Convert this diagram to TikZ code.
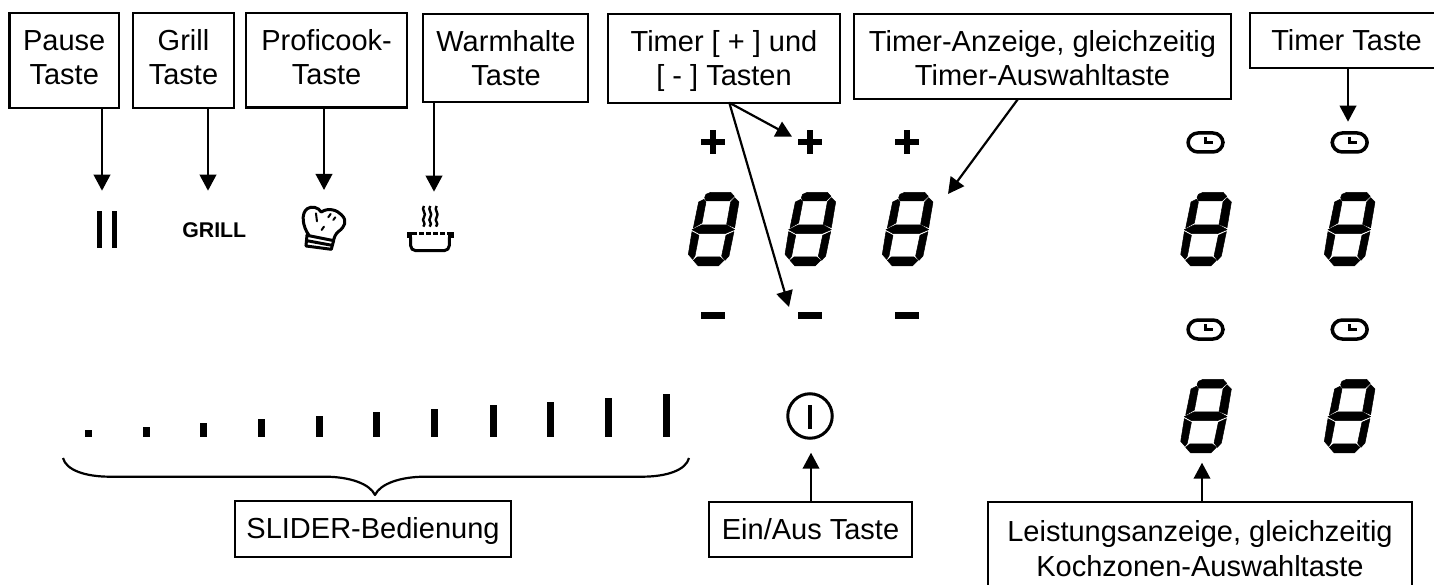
\documentclass[tikz,border=0pt]{standalone}
\usepackage{fontspec}
\setmainfont{Liberation Sans}
\usetikzlibrary{arrows.meta}
\tikzset{
  boxshape/.style={draw=black,line width=2.2pt,inner sep=0pt,outer sep=0pt,fill=white},
  lab/.style={anchor=base,inner sep=0pt,outer sep=0pt,font=\fontsize{29}{34.3}\selectfont},
  arr/.style={line width=2.2pt,-{Triangle[width=16.5pt,length=16pt]},shorten >=0pt},
  brc/.style={line width=2.2pt,line join=round},
  glyph/.style={fill=black,draw=none},
  seg/.style={fill=black,draw=black,line width=0.5pt,line join=round},
}
\newcommand{\twoln}[2]{\begin{tabular}[t]{@{}c@{}}#1\\{}#2\end{tabular}}
\newcommand{\mkbox}[5]{% name, x0, y0, x1, y1
  \path[boxshape,draw] (#2,#3) rectangle (#4,#5);
  \node[inner sep=0pt,outer sep=0pt,minimum width={(#4-#2)*1pt},minimum height={(#5-#3)*1pt}] (#1) at ({(#2+#4)/2},{(#3+#5)/2}) {};
}
\newcommand{\sevenseg}[2]{%
  \begin{scope}[shift={(#1,#2)},x=0.3333pt,y=-0.3333pt]
    \filldraw[seg] (53,7)--(67,1)--(127,1)--(138,13)--(123,27)--(53,27)--(49,17)--cycle;
    \filldraw[seg] (31,30)--(47,22)--(53,30)--(41,93)--(15,108)--cycle;
    \filldraw[seg] (139,17)--(152,30)--(139,107)--(115,97)--(127,30)--cycle;
    \filldraw[seg] (11,113)--(40,99)--(115,99)--(139,113)--(110,125)--(33,125)--cycle;
    \filldraw[seg] (11,119)--(32,130)--(20,192)--(13,202)--(0,187)--cycle;
    \filldraw[seg] (137,119)--(122,192)--(110,205)--(100,192)--(113,130)--cycle;
    \filldraw[seg] (15,205)--(27,195)--(95,195)--(107,205)--(90,222)--(30,222)--cycle;
  \end{scope}}
\newcommand{\plusg}[2]{\fill[glyph] (#1-12,#2-3) rectangle (#1+12,#2+3);\fill[glyph] (#1-3,#2-12) rectangle (#1+3,#2+12);}
\newcommand{\minusg}[2]{\fill[glyph] (#1-12,#2-3.5) rectangle (#1+12,#2+3.5);}
\newcommand{\clockg}[2]{%
  \draw[line width=3.5pt,rounded corners=10pt] (#1-17.5,#2-9.5) rectangle (#1+17.5,#2+9.5);
  \draw[line width=3pt] (#1,#2-5.5) -- (#1,#2) -- (#1+7.5,#2);}
\begin{document}
\begin{tikzpicture}[x=1pt,y=-1pt]
\useasboundingbox (0,0) rectangle (1434,585);
\fill[white] (0,0) rectangle (1434,585);
\clip (0,0) rectangle (1434,585);

% boxes
\mkbox{pause}{9.5}{13}{119}{108}
\mkbox{grill}{133}{13}{234}{108}
\mkbox{profi}{246}{13}{407}{107.5}
\mkbox{warm}{423}{14}{588}{102}
\mkbox{timer}{608}{14}{840}{102.7}
\mkbox{anzeige}{854}{14}{1231}{99}
\mkbox{ttaste}{1250}{13}{1443}{68}
\mkbox{slider}{235}{501}{511}{557}
\mkbox{einaus}{709}{501.7}{912}{557}
\mkbox{leistung}{988}{501.7}{1412}{595}

% box texts
\node[lab] (tpause) at (64.2,50.7) {\twoln{Pause}{Taste}};
\node[lab] (tgrill) at (183.5,50.7) {\twoln{Grill}{Taste}};
\node[lab] (tprofi) at (326.6,50.7) {\twoln{Proficook-}{Taste}};
\node[lab] (twarm) at (506,51.7) {\twoln{Warmhalte}{Taste}};
\node[lab] (ttimer) at (724,51.7) {\twoln{Timer [ + ] und}{[ - ] Tasten}};
\node[lab] (tanz) at (1042.5,51.7) {\twoln{Timer-Anzeige, gleichzeitig}{Timer-Auswahltaste}};
\node[lab] (ttt) at (1346.5,50.7) {Timer Taste};
\node[lab] (tslider) at (373,538.3) {SLIDER-Bedienung};
\node[lab] (tein) at (810.5,539.3) {Ein/Aus Taste};
\node[lab] (tlei) at (1200,541.7) {\twoln{Leistungsanzeige, gleichzeitig}{Kochzonen-Auswahltaste}};

% pause symbol
\fill[glyph] (96.5,210.7) rectangle (101.5,247.7);
\fill[glyph] (111.8,210.7) rectangle (116.8,247.7);
% grill label
\node[anchor=base,inner sep=0pt,font=\fontsize{21.3}{24}\selectfont\bfseries] (grilltxt) at (214.3,237.3) {GRILL};

% chef hat
\begin{scope}[x=0.3333pt,y=-0.3333pt,line width=3pt,line join=round,line cap=round]
  \draw (927,706) .. controls (908,680) and (902,640) .. (922,626) .. controls (935,617) and (955,622) .. (964,636)
        .. controls (985,622) and (1012,630) .. (1025,645) .. controls (1042,662) and (1036,680) .. (1015,695)
        .. controls (1006,703) and (1003,712) .. (1000,722);
  \draw (921,706) -- (1001,722) -- (994,748) -- (918,738) -- cycle;
  \draw (920,722) -- (996,736);
  \draw[line width=2pt] (948,640) -- (951,664);
  \draw[line width=2pt] (985,652) -- (992,642);
  \draw[line width=2pt] (965,690) -- (972,680);
  \draw[line width=2pt] (1000,660) -- (1006,652);
\end{scope}

% pot
\begin{scope}[x=0.3333pt,y=-0.3333pt,line join=round]
  \fill[glyph] (1220,695) rectangle (1237,715);
  \fill[glyph] (1345,695) rectangle (1361,715);
  \draw[line width=3pt,rounded corners=5pt] (1232,712) -- (1232,752) -- (1348,752) -- (1348,712);
  \draw[line width=3pt,dash pattern=on 5pt off 2pt] (1237,700) -- (1345,700);
  \draw[line width=2.4pt] (1272,618) .. controls (1262,630) and (1282,640) .. (1272,652) .. controls (1262,664) and (1282,668) .. (1270,680);
  \draw[line width=2.4pt] (1291,618) .. controls (1281,630) and (1301,640) .. (1291,652) .. controls (1281,664) and (1301,668) .. (1289,680);
  \draw[line width=2.4pt] (1310,618) .. controls (1300,630) and (1320,640) .. (1310,652) .. controls (1300,664) and (1320,668) .. (1308,680);
\end{scope}

% plus, minus, displays
\plusg{713}{142.3}\plusg{810}{142.3}\plusg{907}{142.3}
\minusg{713}{315}\minusg{810}{315}\minusg{907}{315}
\sevenseg{688.3}{192}\sevenseg{785}{192}\sevenseg{882.3}{192}
\sevenseg{1180.7}{192}\sevenseg{1324.3}{192}
\sevenseg{1180.7}{379}\sevenseg{1324.3}{379}

% clocks
\clockg{1205.5}{142.5}\clockg{1349.7}{142.5}
\clockg{1205.5}{329.5}\clockg{1349.7}{329.5}

% power symbol
\node[draw=black,line width=3pt,circle,minimum size=44.5pt,inner sep=0pt] (power) at (810,416) {};
\draw[line width=3.2pt] (810,405) -- (810,429.3);

% slider bars
\foreach \xx/\yy in {88/430,146/426.7,203/422.7,261/419.3,319/416,376/412.3,434/409,493/405,550/401.7,608/398.3,666/394}
  \fill[glyph] (\xx-3.5,\yy) rectangle (\xx+3.5,437);

% brace
\draw[brc] (63,458) .. controls (66,470) and (85,476.7) .. (110,476.7) -- (325,476.7)
  .. controls (350,476.7) and (370,484) .. (375,495)
  .. controls (380,484) and (400,476.7) .. (425,476.7) -- (642,476.7)
  .. controls (667,476.7) and (686,470) .. (689,458);

% connector ends
\coordinate (pA) at (102,190.7);
\coordinate (gA) at (208,190.7);
\coordinate (prA) at (324,190);
\coordinate (wA) at (434,191.7);
\coordinate (tS) at (729.3,102.7);
\coordinate (tP) at (792,136.7);
\coordinate (tM) at (789,307);
\coordinate (aS) at (1018,99);
\coordinate (aA) at (948,194);
\coordinate (ttA) at (1348,121.7);
\coordinate (eA) at (811,452.7);
\coordinate (lA) at (1202,462.7);

% connectors
\draw[arr] (pause.south -| pA) -- (pA);
\draw[arr] (grill.south -| gA) -- (gA);
\draw[arr] (profi.south -| prA) -- (prA);
\draw[arr] (warm.south -| wA) -- (wA);
\draw[arr] (tS) -- (tP);
\draw[arr] (tS) -- (tM);
\draw[arr] (aS) -- (aA);
\draw[arr] (ttaste.south -| ttA) -- (ttA);
\draw[arr] (einaus.north -| eA) -- (eA);
\draw[arr] (leistung.north -| lA) -- (lA);
\end{tikzpicture}
\end{document}
